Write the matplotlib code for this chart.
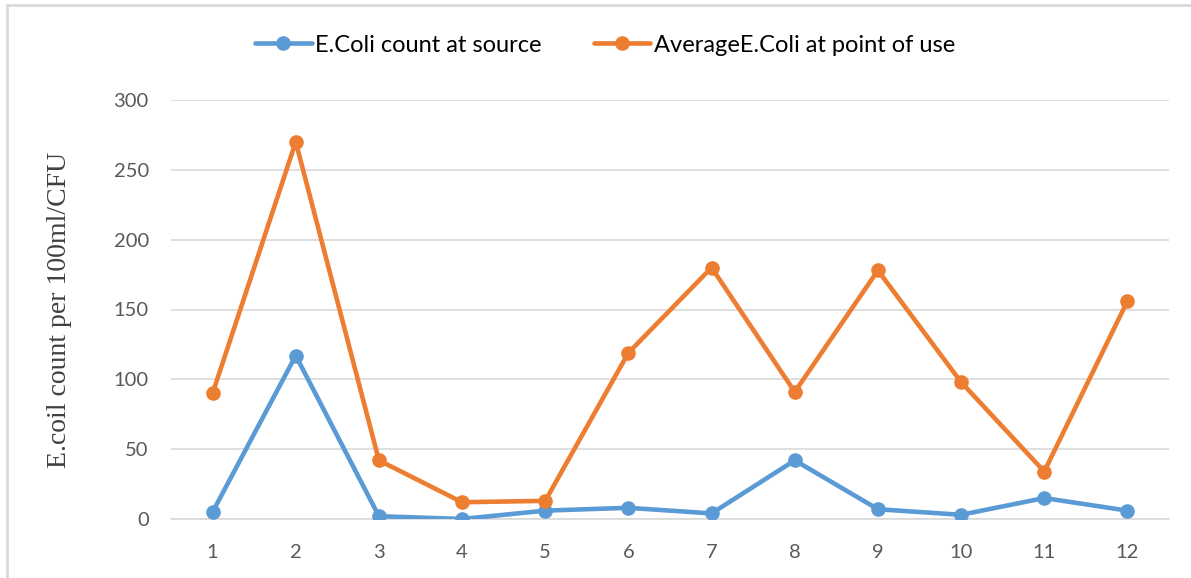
import matplotlib
matplotlib.use("Agg")
import matplotlib.pyplot as plt
from matplotlib.lines import Line2D

categories = ["1", "2", "3", "4", "5", "6", "7", "8", "9", "10", "11", "12"]
source = [5, 117, 2, 0, 6, 8, 4, 42, 7, 3, 15, 6]
point_of_use = [90, 270, 42, 12, 13, 119, 180, 91, 178, 98, 34, 156]
yticks = [0, 50, 100, 150, 200, 250, 300]

W, H = 1191, 578
fig = plt.figure(figsize=(W / 100, H / 100), dpi=100)
fig.patch.set_facecolor("white")
# outer chart border (top and left only visible)
fig.add_artist(Line2D([7 / W, 7 / W, 1.0], [0.0, 1 - 5 / H, 1 - 5 / H],
                      transform=fig.transFigure, color="#D9D9D9", linewidth=2))

ax = fig.add_axes([171 / W, 1 - 519 / H, (1169 - 171) / W, (519 - 100) / H])
x = list(range(len(categories)))
sans = "Lato"
ax.plot(x, source, color="#5B9BD5", linewidth=3.3, marker="o", markersize=9.5,
        label="E.Coli count at source", solid_capstyle="round", zorder=3)
ax.plot(x, point_of_use, color="#ED7D31", linewidth=3.3, marker="o", markersize=9.5,
        label="AverageE.Coli at point of use", solid_capstyle="round", zorder=3)

ax.set_xlim(-0.5, len(categories) - 0.5)
ax.set_ylim(0, 300)
ax.set_yticks(yticks)
ax.set_xticks(x)
ax.set_xticklabels(categories)
ax.yaxis.grid(True, color="#D9D9D9", linewidth=1.2)
ax.set_axisbelow(True)
for s in ["top", "right", "left"]:
    ax.spines[s].set_visible(False)
ax.spines["bottom"].set_color("#D9D9D9")
ax.spines["bottom"].set_linewidth(1.2)
ax.tick_params(axis="both", length=0, colors="#595959", labelsize=14.5)
ax.tick_params(axis="y", pad=16)
ax.tick_params(axis="x", pad=18)
for lab in ax.get_xticklabels() + ax.get_yticklabels():
    lab.set_fontfamily(sans)

ax.set_ylabel("E.coil count per 100ml/CFU", family="Liberation Serif", fontsize=20,
              color="#404040", labelpad=30)

leg = fig.legend(loc="center", bbox_to_anchor=(605 / W, 1 - 45 / H), ncol=2,
                 frameon=False, prop={"family": sans, "size": 17},
                 handlelength=2.4, columnspacing=2.2, handletextpad=0.15)
for t in leg.get_texts():
    t.set_color("#000000")

fig.savefig("out.png", dpi=100)
